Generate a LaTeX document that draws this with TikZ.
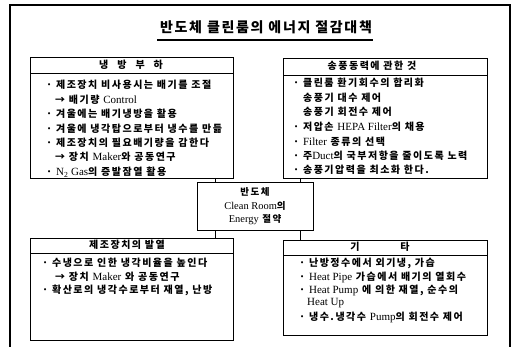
\documentclass[tikz,border=0pt]{standalone}
\usepackage{fontspec}
\setmainfont{Noto Sans CJK KR}[LetterSpace=15]
\newfontfamily\titlefont{Noto Sans CJK KR}[LetterSpace=12]
\newfontfamily\eng{Liberation Serif}[Scale=1.1]
\tikzset{
  box/.style={draw, line width=0.9pt, inner sep=0pt, outer sep=0pt},
  item/.style={anchor=west, inner sep=0pt, font=\bfseries\fontsize{10}{12}\selectfont},
  head/.style={inner sep=0pt, font=\bfseries\fontsize{10}{12}\selectfont},
  link/.style={line width=0.9pt},
  frame/.style={line width=1.2pt}
}
\begin{document}
\begin{tikzpicture}[x=1pt,y=-1pt]
\useasboundingbox (0,0) rectangle (513,347);
% outer frame
\draw[frame] (10,347) -- (10,5) -- (510,5) -- (510,347);
% title
\node[inner sep=0pt, font=\titlefont\bfseries\fontsize{14}{16}\selectfont] (title) at (266,27) {반도체 클린룸의 에너지 절감대책};
\draw[line width=1.6pt] (157,40) -- (373,40);

% boxes
\node[box, minimum width=203pt, minimum height=121pt] (tl) at (131.5,117.5) {};
\node[box, minimum width=204pt, minimum height=120pt] (tr) at (385,118) {};
\node[box, minimum width=203pt, minimum height=102pt] (bl) at (131.5,289) {};
\node[box, minimum width=204pt, minimum height=95pt] (br) at (385,287.5) {};
\node[box, minimum width=116pt, minimum height=48pt, align=center,
      font=\bfseries\fontsize{9.5}{13.5}\selectfont] (cb) at (255,206.5)
  {반도체\\{\eng\mdseries Clean Room}의\\{\eng\mdseries Energy} 절약};

% header separators
\draw[line width=0.9pt] (tl.west |- 0,73) -- (tl.east |- 0,73);
\draw[line width=0.9pt] (tr.west |- 0,75) -- (tr.east |- 0,75);
\draw[line width=0.9pt] (bl.west |- 0,253) -- (bl.east |- 0,253);
\draw[line width=0.9pt] (br.west |- 0,255) -- (br.east |- 0,255);

% connectors
\coordinate (cl) at (215,0);
\coordinate (cr) at (300,0);
\draw[link] (tl.south -| cl) -- (cb.north -| cl);
\draw[link] (tr.south -| cr) -- (cb.north -| cr);
\draw[link] (cb.south -| cl) -- (bl.north -| cl);
\draw[link] (cb.south -| cr) -- (br.north -| cr);

% headers
\node[head] (h1) at (131,65) {냉\hspace{9pt}방\hspace{9pt}부\hspace{9pt}하};
\node[head] (h2) at (372,66) {송풍동력에 관한 것};
\node[head] (h3) at (127,245) {제조장치의 발열};
\node[head] (h4a) at (355,247) {기};
\node[head] (h4b) at (405,247) {타};

% top-left items
\node[item] (a1) at (46,85) {· 제조장치 비사용시는 배기를 조절};
\node[item] (a2) at (55,100) {→ 배기량 {\eng\mdseries Control}};
\node[item] (a3) at (46,114) {· 겨울에는 배기냉방을 활용};
\node[item] (a4) at (46,129) {· 겨울에 냉각탑으로부터 냉수를 만듦};
\node[item] (a5) at (46,143) {· 제조장치의 필요배기량을 감한다};
\node[item] (a6) at (55,157) {→ 장치 {\eng\mdseries Maker}와 공동연구};
\node[item] (a7) at (46,172) {· {\eng\mdseries N\textsubscript{2} Gas}의 증발잠열 활용};

% top-right items
\node[item] (b1) at (293,83) {· 클린룸 환기회수의 합리화};
\node[item] (b2) at (303,98) {송풍기 대수 제어};
\node[item] (b3) at (303,112) {송풍기 회전수 제어};
\node[item] (b4) at (293,127) {· 저압손 {\eng\mdseries HEPA Filter}의 채용};
\node[item] (b5) at (293,142) {· {\eng\mdseries Filter} 종류의 선택};
\node[item] (b6) at (293,156) {· 주{\eng\mdseries Duct}의 국부저항을 줄이도록 노력};
\node[item] (b7) at (293,170) {· 송풍기압력을 최소화 한다.};

% bottom-left items
\node[item] (c1) at (42,263) {· 수냉으로 인한 냉각비율을 높인다};
\node[item] (c2) at (55,277) {→ 장치 {\eng\mdseries Maker} 와 공동연구};
\node[item] (c3) at (42,290) {· 확산로의 냉각수로부터 재열, 난방};

% bottom-right items
\node[item] (d1) at (299,263) {· 난방정수에서 외기냉, 가습};
\node[item] (d2) at (299,277) {· {\eng\mdseries Heat Pipe} 가습에서 배기의 열회수};
\node[item] (d3) at (299,290) {· {\eng\mdseries Heat Pump} 에 의한 재열, 순수의};
\node[item] (d4) at (307,303) {{\eng\mdseries Heat Up}};
\node[item] (d5) at (299,317) {· 냉수.냉각수 {\eng\mdseries Pump}의 회전수 제어};
\end{tikzpicture}
\end{document}
